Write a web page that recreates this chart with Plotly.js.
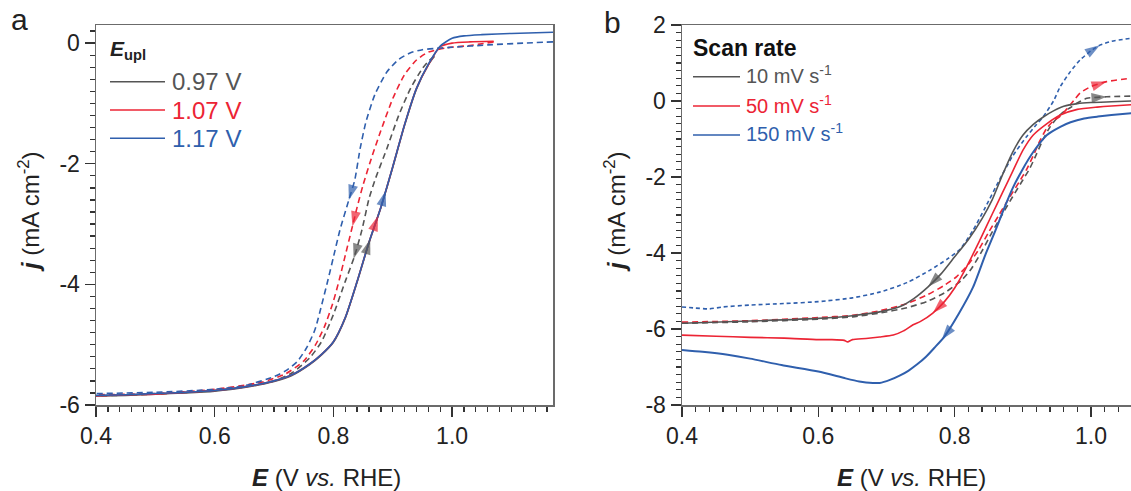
<!DOCTYPE html>
<html><head><meta charset="utf-8">
<script src="https://cdn.plot.ly/plotly-3.0.1.min.js"></script>
<style>html,body{margin:0;padding:0;background:#fff;}#chart{width:1131px;height:491px;}</style>
</head><body><div id="chart"></div>
<script>
// ---------------- Panel a : E_upl series ----------------
const legendA = ["0.97 V", "1.07 V", "1.17 V"];
// forward (solid) scans
const aE_fwd_097 = [0.40,0.45,0.50,0.55,0.60,0.65,0.70,0.73,0.76,0.78,0.80,0.82,0.84,0.86,0.88,0.90,0.92,0.94,0.96,0.97];
const aJ_fwd_097 = [-5.85,-5.84,-5.82,-5.80,-5.77,-5.71,-5.61,-5.51,-5.33,-5.17,-4.96,-4.56,-3.96,-3.31,-2.73,-2.06,-1.36,-0.76,-0.36,-0.22];
const aE_fwd_107 = [0.40,0.45,0.50,0.55,0.60,0.65,0.70,0.73,0.76,0.78,0.80,0.82,0.84,0.86,0.88,0.90,0.92,0.94,0.96,0.98,1.00,1.03,1.07];
const aJ_fwd_107 = [-5.85,-5.83,-5.82,-5.79,-5.76,-5.70,-5.60,-5.50,-5.32,-5.16,-4.95,-4.55,-3.95,-3.30,-2.72,-2.05,-1.35,-0.75,-0.36,-0.06,0.00,0.02,0.03];
const aE_fwd_117 = [0.40,0.45,0.50,0.55,0.60,0.65,0.70,0.73,0.76,0.78,0.80,0.82,0.84,0.86,0.88,0.90,0.92,0.94,0.96,0.98,1.00,1.02,1.05,1.10,1.17];
const aJ_fwd_117 = [-5.84,-5.83,-5.81,-5.79,-5.76,-5.70,-5.60,-5.50,-5.32,-5.16,-4.95,-4.55,-3.95,-3.30,-2.72,-2.05,-1.35,-0.75,-0.35,-0.05,0.08,0.12,0.14,0.16,0.18];
// reverse (dashed) scans
const aE_rev_097 = [0.97,0.96,0.95,0.93,0.91,0.89,0.87,0.86,0.848,0.835,0.82,0.80,0.78,0.76,0.73,0.70,0.65,0.60,0.50,0.40];
const aJ_rev_097 = [-0.22,-0.30,-0.42,-0.75,-1.20,-1.75,-2.27,-2.58,-3.10,-3.55,-3.95,-4.50,-4.95,-5.22,-5.47,-5.60,-5.70,-5.76,-5.82,-5.85];
const aE_rev_107 = [1.07,1.03,0.99,0.96,0.94,0.92,0.90,0.88,0.865,0.85,0.84,0.83,0.82,0.81,0.80,0.785,0.77,0.75,0.72,0.68,0.60,0.50,0.40];
const aJ_rev_107 = [0.02,-0.04,-0.08,-0.15,-0.28,-0.52,-0.92,-1.45,-1.88,-2.35,-2.72,-3.12,-3.52,-3.92,-4.28,-4.70,-5.00,-5.27,-5.48,-5.62,-5.74,-5.81,-5.83];
const aE_rev_117 = [1.17,1.12,1.06,1.00,0.97,0.95,0.93,0.91,0.89,0.87,0.855,0.845,0.836,0.826,0.811,0.80,0.791,0.78,0.769,0.755,0.739,0.72,0.70,0.65,0.60,0.50,0.40];
const aJ_rev_117 = [0.02,0.00,-0.03,-0.07,-0.09,-0.11,-0.16,-0.27,-0.48,-0.85,-1.30,-1.75,-2.27,-2.60,-3.10,-3.55,-3.92,-4.35,-4.75,-5.05,-5.28,-5.43,-5.53,-5.68,-5.74,-5.79,-5.81];

// ---------------- Panel b : scan-rate series ----------------
const legendB = ["10 mV s<sup>-1</sup>", "50 mV s<sup>-1</sup>", "150 mV s<sup>-1</sup>"];
// cathodic (solid) scans
const bE_cat_10 = [1.059,1.03,1.0,0.98,0.96,0.945,0.93,0.915,0.90,0.885,0.87,0.855,0.84,0.82,0.80,0.78,0.761,0.74,0.72,0.69,0.65,0.60,0.50,0.40];
const bJ_cat_10 = [0.0,-0.02,-0.04,-0.07,-0.14,-0.26,-0.42,-0.62,-0.90,-1.35,-1.95,-2.60,-3.10,-3.65,-4.10,-4.55,-4.89,-5.20,-5.41,-5.55,-5.65,-5.72,-5.79,-5.85];
const bE_cat_50 = [1.059,1.03,1.009,0.98,0.955,0.935,0.915,0.90,0.886,0.87,0.855,0.84,0.83,0.815,0.80,0.785,0.768,0.75,0.739,0.725,0.71,0.69,0.67,0.65,0.643,0.638,0.62,0.60,0.55,0.50,0.45,0.40];
const bJ_cat_50 = [-0.10,-0.13,-0.16,-0.22,-0.37,-0.60,-0.90,-1.30,-1.82,-2.42,-2.98,-3.55,-3.92,-4.45,-4.92,-5.28,-5.58,-5.80,-5.89,-6.05,-6.16,-6.21,-6.25,-6.28,-6.34,-6.30,-6.28,-6.28,-6.24,-6.22,-6.19,-6.16];
const bE_cat_150 = [1.059,1.03,1.01,0.99,0.97,0.955,0.935,0.915,0.899,0.885,0.872,0.86,0.845,0.827,0.806,0.785,0.77,0.758,0.745,0.732,0.72,0.705,0.69,0.68,0.66,0.64,0.60,0.546,0.50,0.467,0.43,0.40];
const bJ_cat_150 = [-0.32,-0.37,-0.41,-0.46,-0.56,-0.68,-0.90,-1.35,-1.82,-2.30,-2.85,-3.40,-4.05,-4.90,-5.60,-6.20,-6.50,-6.73,-6.93,-7.10,-7.22,-7.34,-7.42,-7.42,-7.38,-7.30,-7.12,-6.95,-6.78,-6.68,-6.60,-6.55];
// anodic (dashed) scans
const bE_an_10 = [0.40,0.50,0.60,0.65,0.69,0.73,0.76,0.785,0.81,0.825,0.84,0.855,0.87,0.885,0.90,0.91,0.92,0.93,0.94,0.95,0.96,0.97,0.98,0.994,1.023,1.059];
const bJ_an_10 = [-5.85,-5.81,-5.74,-5.68,-5.58,-5.44,-5.27,-5.05,-4.72,-4.40,-3.95,-3.45,-2.98,-2.52,-2.08,-1.78,-1.40,-1.00,-0.68,-0.45,-0.28,-0.17,-0.05,0.07,0.11,0.13];
const bE_an_50 = [0.40,0.50,0.60,0.65,0.69,0.73,0.76,0.785,0.803,0.82,0.835,0.85,0.865,0.88,0.895,0.905,0.915,0.925,0.935,0.945,0.955,0.965,0.975,0.984,1.0,1.023,1.059];
const bJ_an_50 = [-5.82,-5.78,-5.70,-5.64,-5.52,-5.33,-5.10,-4.85,-4.62,-4.30,-3.92,-3.45,-3.00,-2.55,-2.12,-1.82,-1.45,-1.05,-0.72,-0.52,-0.40,-0.20,0.02,0.21,0.38,0.51,0.60];
const bE_an_150 = [0.40,0.42,0.44,0.46,0.50,0.55,0.60,0.65,0.69,0.73,0.764,0.79,0.808,0.827,0.845,0.865,0.885,0.905,0.92,0.93,0.945,0.955,0.97,0.984,1.0,1.013,1.03,1.059];
const bJ_an_150 = [-5.42,-5.45,-5.47,-5.42,-5.37,-5.33,-5.28,-5.18,-5.03,-4.78,-4.45,-4.15,-3.90,-3.40,-2.80,-2.10,-1.45,-0.95,-0.62,-0.41,0.0,0.38,0.78,1.08,1.32,1.47,1.57,1.65];

const COLORS = ["#555555", "#ec2434", "#2f5fad"];
const FONT = "Liberation Sans, Arial, Helvetica, sans-serif";

// ---------------- layout geometry ----------------
const W = 1131, H = 491;
const px = x => x / W, py = y => 1 - y / H;
const domAx = [px(96), px(553)], domBx = [px(682), 1], domY = [py(405), py(25)];
const rAx = [0.4, 1.17], rAy = [-6, 0.3], rBx = [0.4, 1.0587], rBy = [-8, 2];

const traces = [];
function addLine(E, J, color, dash, xa, ya, w) {
  traces.push({x: E, y: J, type: "scatter", mode: "lines", xaxis: xa, yaxis: ya,
    line: {color: color, width: w || 1.6, dash: dash, shape: "spline", smoothing: 0.6},
    hoverinfo: "skip", showlegend: false});
}
const dashA = "6px,4px";
addLine(aE_rev_097, aJ_rev_097, COLORS[0], dashA, "x", "y");
addLine(aE_rev_107, aJ_rev_107, COLORS[1], dashA, "x", "y");
addLine(aE_rev_117, aJ_rev_117, COLORS[2], dashA, "x", "y");
addLine(aE_fwd_097, aJ_fwd_097, COLORS[0], "solid", "x", "y");
addLine(aE_fwd_107, aJ_fwd_107, COLORS[1], "solid", "x", "y");
addLine(aE_fwd_117, aJ_fwd_117, COLORS[2], "solid", "x", "y");

addLine(bE_an_10, bJ_an_10, COLORS[0], "6px,4px", "x2", "y2");
addLine(bE_an_50, bJ_an_50, COLORS[1], "6px,4px", "x2", "y2");
addLine(bE_an_150, bJ_an_150, COLORS[2], "4px,3px", "x2", "y2");
addLine(bE_cat_10, bJ_cat_10, COLORS[0], "solid", "x2", "y2");
addLine(bE_cat_50, bJ_cat_50, COLORS[1], "solid", "x2", "y2");
addLine(bE_cat_150, bJ_cat_150, COLORS[2], "solid", "x2", "y2", 2.0);

// ---------------- direction arrows, placed on the curves by E value ----------------
function interp(xs, ys, x) {
  for (let i = 0; i < xs.length - 1; i++) {
    const x0 = xs[i], x1 = xs[i + 1];
    if ((x >= x0 && x <= x1) || (x <= x0 && x >= x1)) {
      const t = x1 === x0 ? 0 : (x - x0) / (x1 - x0);
      return ys[i] + t * (ys[i + 1] - ys[i]);
    }
  }
  return ys[ys.length - 1];
}
const arrows = [
  // [E array, j array, E at tip, scan direction, color, panel]
  [aE_rev_117, aJ_rev_117, 0.826, -1, COLORS[2], "a"],
  [aE_rev_107, aJ_rev_107, 0.832, -1, COLORS[1], "a"],
  [aE_rev_097, aJ_rev_097, 0.834, -1, COLORS[0], "a"],
  [aE_fwd_097, aJ_fwd_097, 0.862, 1, COLORS[0], "a"],
  [aE_fwd_107, aJ_fwd_107, 0.875, 1, COLORS[1], "a"],
  [aE_fwd_117, aJ_fwd_117, 0.888, 1, COLORS[2], "a"],
  [bE_cat_10, bJ_cat_10, 0.761, -1, COLORS[0], "b"],
  [bE_cat_50, bJ_cat_50, 0.768, -1, COLORS[1], "b"],
  [bE_cat_150, bJ_cat_150, 0.781, -1, COLORS[2], "b"],
  [bE_an_150, bJ_an_150, 1.013, 1, COLORS[2], "b"],
  [bE_an_50, bJ_an_50, 1.023, 1, COLORS[1], "b"],
  [bE_an_10, bJ_an_10, 1.023, 1, COLORS[0], "b"]
];
arrows.forEach(([Es, Js, e, dir, col, p]) => {
  const et = e - dir * 0.006;
  traces.push({x: [et, e], y: [interp(Es, Js, et), interp(Es, Js, e)], type: "scatter", mode: "markers",
    xaxis: p === "a" ? "x" : "x2", yaxis: p === "a" ? "y" : "y2", hoverinfo: "skip", showlegend: false,
    marker: {symbol: "arrow", angleref: "previous", size: [0, 16], color: col, line: {width: 0}}});
});

// ---------------- text annotations ----------------
const annotations = [];
function txt(x, y, text, size, opts) {
  annotations.push(Object.assign({x: px(x), y: py(y), xref: "paper", yref: "paper", text: text,
    showarrow: false, font: {family: FONT, size: size, color: "#222"}, xanchor: "center", yanchor: "middle"}, opts || {}));
}
txt(19, 20, "a", 30);
txt(612, 22, "b", 30);
txt(326, 477, "<b><i>E</i></b> (V <i>vs.</i> RHE)", 24);
txt(911, 477, "<b><i>E</i></b> (V <i>vs.</i> RHE)", 24);
txt(29, 212, "<b><i>j</i></b> (mA cm<sup>-2</sup>)", 24, {textangle: -90});
txt(615, 212, "<b><i>j</i></b> (mA cm<sup>-2</sup>)", 24, {textangle: -90});

// legends
const shapes = [];
txt(108, 50, "<b><i>E</i><sub>upl</sub></b>", 21, {xanchor: "left"});
const rowsA = [81.7, 110, 138.3];
legendA.forEach((t, i) => {
  shapes.push({type: "line", xref: "paper", yref: "paper", x0: px(110), x1: px(165), y0: py(rowsA[i]), y1: py(rowsA[i]),
    line: {color: COLORS[i], width: 1.6}});
  txt(170, rowsA[i], t, 24, {xanchor: "left", font: {family: FONT, size: 24, color: COLORS[i]}});
});
txt(691, 48, "<b>Scan rate</b>", 23, {xanchor: "left", font: {family: FONT, size: 23, color: "#111"}});
const rowsB = [76.7, 106, 135];
legendB.forEach((t, i) => {
  shapes.push({type: "line", xref: "paper", yref: "paper", x0: px(693), x1: px(740), y0: py(rowsB[i]), y1: py(rowsB[i]),
    line: {color: COLORS[i], width: 1.6}});
  txt(744, rowsB[i] - 2, t, 20, {xanchor: "left", font: {family: FONT, size: 20, color: COLORS[i]}});
});

// ---------------- axes ----------------
function axis(extra) {
  return Object.assign({
    showline: true, linecolor: "#6b6b6b", linewidth: 1.5,
    ticks: "outside", ticklen: 10, tickwidth: 1.5, tickcolor: "#333",
    showgrid: false, zeroline: false,
    tickfont: {family: FONT, size: 23, color: "#222"}
  }, extra);
}
const minorX = {ticks: "outside", ticklen: 5, tickwidth: 1.3, tickcolor: "#333", tickmode: "linear", tick0: 0.4, dtick: 0.02, showgrid: false};
const minorY = {ticks: "outside", ticklen: 5, tickwidth: 1.3, tickcolor: "#333", tickmode: "linear", tick0: 0, dtick: 0.2, showgrid: false};
const xTickVals = [0.4, 0.6, 0.8, 1.0], xTickText = ["0.4", "0.6", "0.8", "1.0"];
const yTickValsA = [-6, -4, -2, 0], yTickTextA = ["-6", "-4", "-2", "0"];
const yTickValsB = [-8, -6, -4, -2, 0, 2], yTickTextB = ["-8", "-6", "-4", "-2", "0", "2"];

const layout = {
  width: W, height: H, margin: {l: 0, r: 0, t: 0, b: 0},
  paper_bgcolor: "#fff", plot_bgcolor: "#fff", showlegend: false,
  xaxis: axis({domain: domAx, range: rAx, anchor: "y", mirror: true, tickmode: "array", tickvals: xTickVals, ticktext: xTickText, minor: minorX}),
  yaxis: axis({domain: domY, range: rAy, anchor: "x", mirror: true, tickmode: "array", tickvals: yTickValsA, ticktext: yTickTextA, minor: minorY}),
  xaxis2: axis({domain: domBx, range: rBx, anchor: "y2", mirror: true, tickmode: "array", tickvals: xTickVals, ticktext: xTickText, minor: minorX}),
  yaxis2: axis({domain: domY, range: rBy, anchor: "x2", mirror: false, tickmode: "array", tickvals: yTickValsB, ticktext: yTickTextB, minor: minorY}),
  annotations: annotations, shapes: shapes
};
Plotly.newPlot("chart", traces, layout, {displayModeBar: false, staticPlot: true});
</script></body></html>
